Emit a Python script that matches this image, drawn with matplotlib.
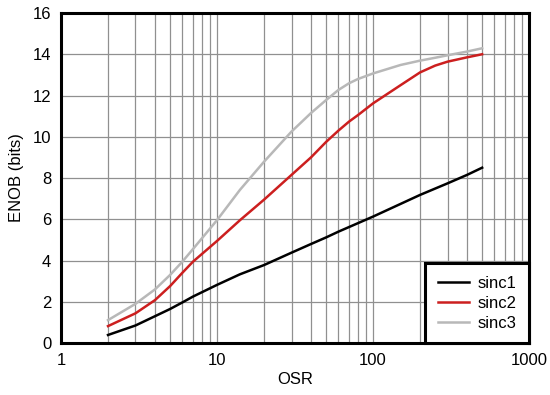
import matplotlib
matplotlib.use("Agg")
import matplotlib.pyplot as plt
from matplotlib.ticker import LogLocator, NullFormatter

plt.rcParams['font.family'] = ['Liberation Sans', 'DejaVu Sans']

osr1 = [2, 3, 4, 5, 6, 7, 10, 14, 20, 30, 40, 50, 60, 100, 200, 300, 400, 500]
sinc1 = [0.39, 0.85, 1.3, 1.65, 1.97, 2.25, 2.82, 3.33, 3.78, 4.38, 4.8, 5.12,
         5.4, 6.13, 7.18, 7.74, 8.15, 8.5]

osr23 = [2, 3, 4, 5, 6, 7, 10, 14, 20, 30, 40, 50, 60, 70, 80, 100, 150, 200,
         250, 300, 400, 500]
sinc2 = [0.82, 1.44, 2.08, 2.76, 3.41, 3.94, 4.95, 5.95, 6.95, 8.15, 9.0, 9.75,
         10.3, 10.73, 11.05, 11.62, 12.5, 13.12, 13.45, 13.64, 13.85, 14.0]
sinc3 = [1.11, 1.9, 2.6, 3.3, 3.95, 4.55, 5.96, 7.42, 8.79, 10.25, 11.15, 11.78,
         12.27, 12.59, 12.8, 13.07, 13.48, 13.69, 13.83, 13.95, 14.13, 14.29]

xticks = [1, 10, 100, 1000]
yticks = [0, 2, 4, 6, 8, 10, 12, 14, 16]

fig = plt.figure(figsize=(5.5, 3.95), dpi=100)
ax = fig.add_axes([0.111, 0.1316, 0.851, 0.8355])

ax.plot(osr1, sinc1, color='black', lw=1.8, label='sinc1', solid_joinstyle='round')
ax.plot(osr23, sinc2, color='#cc1f1f', lw=1.8, label='sinc2', solid_joinstyle='round')
ax.plot(osr23, sinc3, color='#b8b8b8', lw=1.8, label='sinc3', solid_joinstyle='round')

ax.set_xscale('log')
ax.set_xlim(1, 1000)
ax.set_ylim(0, 16)
ax.set_xticks(xticks)
ax.set_xticklabels([str(t) for t in xticks])
ax.xaxis.set_minor_locator(LogLocator(base=10, subs=range(2, 10)))
ax.xaxis.set_minor_formatter(NullFormatter())
ax.set_yticks(yticks)

ax.grid(True, which='both', axis='x', color='#909090', lw=0.9)
ax.grid(True, which='major', axis='y', color='#909090', lw=0.9)
ax.set_axisbelow(True)

ax.tick_params(which='both', length=0, labelsize=12, pad=7)
for s in ax.spines.values():
    s.set_linewidth(2.2)

ax.set_xlabel('OSR', fontsize=12, labelpad=3)
ax.set_ylabel('ENOB (bits)', fontsize=12, labelpad=6)

leg = ax.legend(loc='lower right', borderaxespad=0, fontsize=12, fancybox=False,
                framealpha=1, edgecolor='black', handlelength=1.9,
                handletextpad=0.5, labelspacing=0.3, borderpad=0.75)
leg.get_frame().set_linewidth(2.2)

fig.savefig('out.png', dpi=100)
